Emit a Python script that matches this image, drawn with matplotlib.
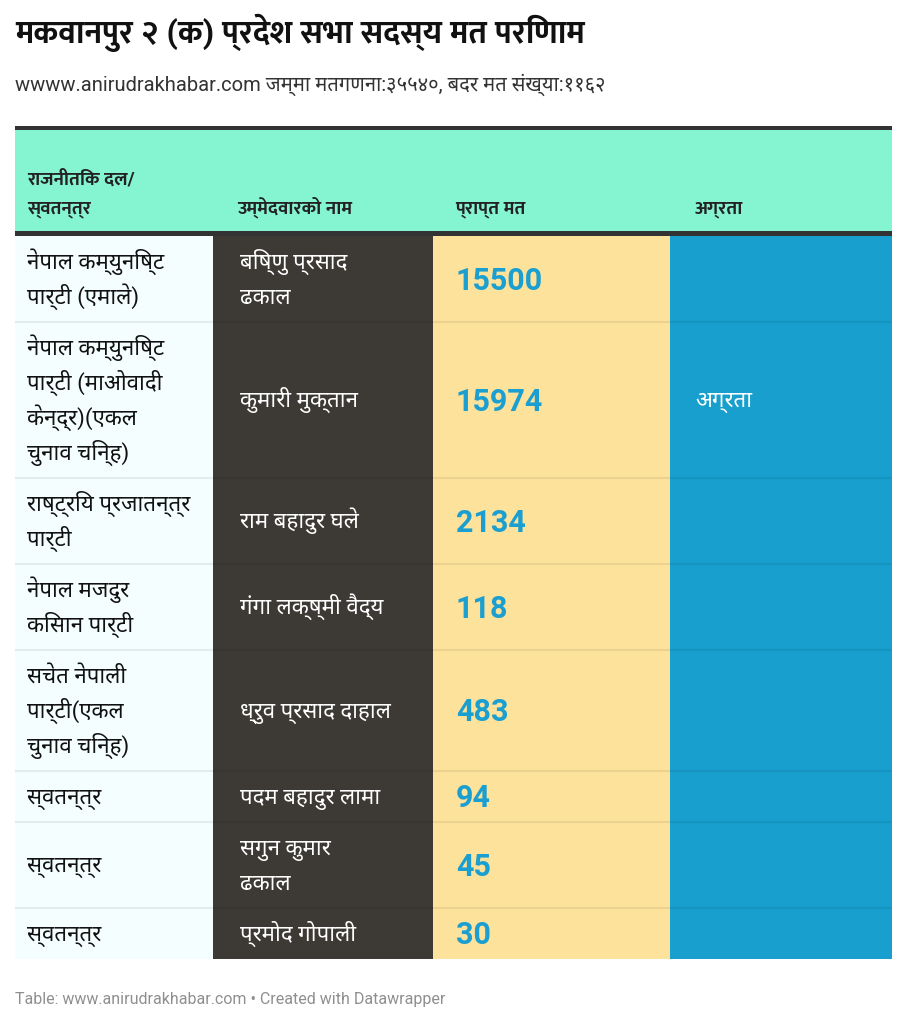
import matplotlib
matplotlib.use("Agg")
import matplotlib.pyplot as plt
from matplotlib.patches import Rectangle
import logging
logging.getLogger('matplotlib.font_manager').setLevel(logging.ERROR)

FONT = ['Roboto', 'Noto Sans Devanagari', 'DejaVu Sans']
FONT_BOLD = ['Roboto', 'Mukta', 'Ek Mukta', 'Noto Sans Devanagari', 'DejaVu Sans']
plt.rcParams['font.family'] = FONT

# ---------------- data ----------------
title = "मकवानपुर २ (क) प्रदेश सभा सदस्य मत परिणाम"
subtitle = "wwww.anirudrakhabar.com जम्मा मतगणना:३५५४०, बदर मत संख्या:११६२"
footer = "Table: www.anirudrakhabar.com • Created with Datawrapper"
headers = ["राजनीतिक दल/\nस्वतन्त्र", "उम्मेदवारको नाम", "प्राप्त मत", "अग्रता"]
parties = [
    "नेपाल कम्युनिष्ट\nपार्टी (एमाले)",
    "नेपाल कम्युनिष्ट\nपार्टी (माओवादी\nकेन्द्र)(एकल\nचुनाव चिन्ह)",
    "राष्ट्रिय प्रजातन्त्र\nपार्टी",
    "नेपाल मजदुर\nकिसान पार्टी",
    "सचेत नेपाली\nपार्टी(एकल\nचुनाव चिन्ह)",
    "स्वतन्त्र",
    "स्वतन्त्र",
    "स्वतन्त्र",
]
candidates = [
    "बिष्णु प्रसाद\nढकाल",
    "कुमारी मुक्तान",
    "राम बहादुर घले",
    "गंगा लक्ष्मी वैद्य",
    "ध्रुव प्रसाद दाहाल",
    "पदम बहादुर लामा",
    "सगुन कुमार\nढकाल",
    "प्रमोद गोपाली",
]
votes = [15500, 15974, 2134, 118, 483, 94, 45, 30]
leading = ["", "अग्रता", "", "", "", "", "", ""]

# ---------------- layout ----------------
W, H = 907, 1024
fig = plt.figure(figsize=(W / 100, H / 100), dpi=100)
ax = fig.add_axes([0, 0, 1, 1])
ax.set_xlim(0, W)
ax.set_ylim(H, 0)
ax.axis('off')

PT = 100 / 72.0  # px per pt
col_x = [15, 213, 433, 670, 892]
col_bg = ['#f5fefe', '#3d3a36', '#fde29c', '#189fcd']
text_col = ['#111111', '#ffffff', '#1a9fd0', '#ffffff']
pad_x = [12, 27, 23, 25]
LINE = 35

# title & subtitle
ax.text(15, 43, title, fontsize=23, fontweight='bold', family=FONT_BOLD,
        color='#111111', va='baseline', ha='left')
ax.text(15, 91, subtitle, fontsize=14.5, color='#333333', va='baseline', ha='left')

# header
ax.add_patch(Rectangle((15, 126), 877, 4, color='#333333', lw=0))
ax.add_patch(Rectangle((15, 130), 877, 102, color='#85f4d0', lw=0))
ax.add_patch(Rectangle((15, 231), 877, 5, color='#333333', lw=0))
hx = [27, 237, 455, 695]
for j, h in enumerate(headers):
    lines = h.split("\n")
    n = len(lines)
    for i, ln in enumerate(lines):
        y = 213 - (n - 1 - i) * 29
        ax.text(hx[j], y, ln, fontsize=13.5, fontweight='bold', family=FONT_BOLD,
                color='#222222', va='baseline', ha='left')

# rows
top = 236
fs = 16
for r in range(len(votes)):
    nlines = max(len(parties[r].split("\n")), len(candidates[r].split("\n")))
    h = 16 + LINE * nlines
    for c in range(4):
        ax.add_patch(Rectangle((col_x[c], top), col_x[c + 1] - col_x[c], h,
                               color=col_bg[c], lw=0, zorder=1))
    cy = top + h / 2.0
    cells = [parties[r], candidates[r], None, leading[r]]
    for c in (0, 1, 3):
        txt = cells[c]
        if not txt:
            continue
        lines = txt.split("\n")
        n = len(lines)
        for i, ln in enumerate(lines):
            ly = cy + (i - (n - 1) / 2.0) * LINE
            ax.text(col_x[c] + pad_x[c], ly + 0.33 * fs * PT, ln,
                    fontsize=fs, color=text_col[c], va='baseline', ha='left', zorder=3)
    ax.text(col_x[2] + pad_x[2], cy + 0.355 * 22 * PT, f"{votes[r]}", fontsize=22,
            fontweight='bold', color=text_col[2], va='baseline', ha='left', zorder=3)
    top += h
    if r < len(votes) - 1:
        ax.plot([15, 892], [top, top], color=(0, 0, 0, 0.07), lw=1.5, zorder=2,
                solid_capstyle='butt')

# footer
ax.text(15, 1004, footer, fontsize=11.5, color='#8f8f8f', va='baseline', ha='left')

fig.savefig("out.png", dpi=100)
